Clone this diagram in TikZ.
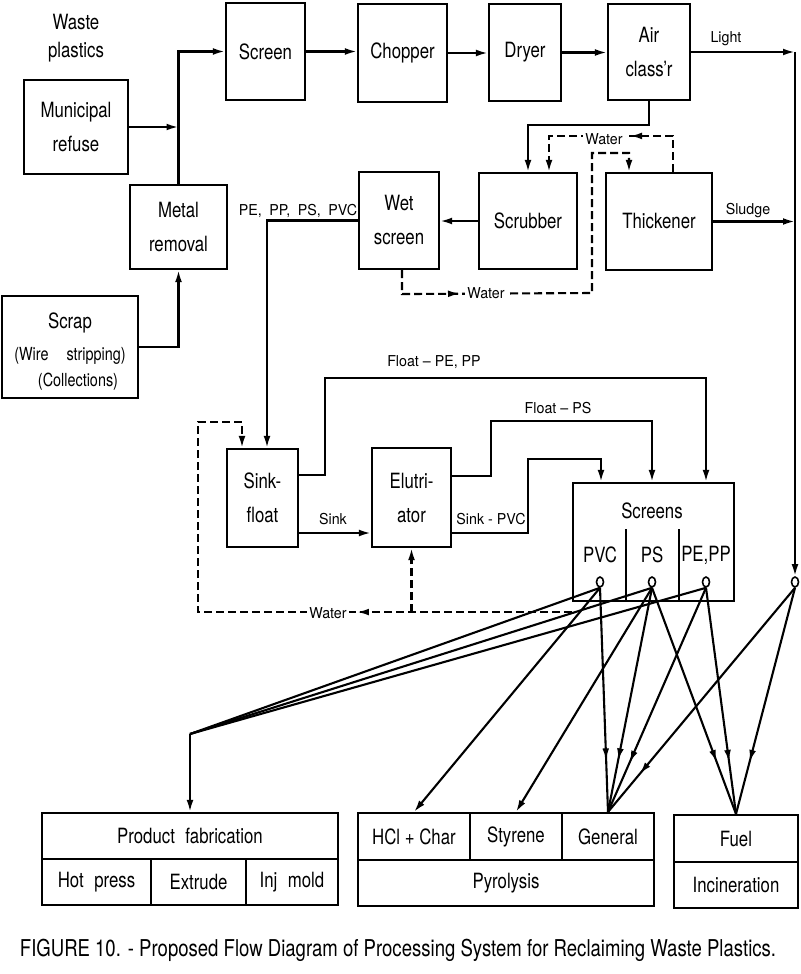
\documentclass[tikz,border=0pt]{standalone}
\usepackage{fontspec}
\setmainfont{TeX Gyre Heros}[FakeStretch=0.8]
\newfontfamily\lblfont{TeX Gyre Heros}[FakeStretch=0.95]
\usetikzlibrary{arrows.meta,shapes.geometric,decorations.markings,calc}
\begin{document}
\begin{tikzpicture}[x=0.5pt,y=-0.5pt,
 every node/.style={font=\fontsize{10.5}{17}\selectfont, align=center},
 box/.style={draw, line width=1.05pt, inner sep=0pt},
 ln/.style={line width=1.05pt},
 arr/.style={ln, -{Latex[length=6pt,width=3.4pt]}},
 dsh/.style={dash pattern=on 4pt off 2pt},
 lbl/.style={font=\lblfont\fontsize{7.5}{9}\selectfont, inner sep=1pt},
 circ/.style={draw, ellipse, minimum width=3.5pt, minimum height=5pt, inner sep=0pt, fill=white, line width=0.8pt},
 midarr/.style={postaction={decorate}, decoration={markings, mark=at position #1 with {\arrow{Latex[length=6pt,width=3.4pt]}}}}]
\fill[white] (0,0) rectangle (800,974);
\useasboundingbox (0,0) rectangle (800,974);

% ---- nodes
\node[font=\fontsize{10.5}{14}\selectfont] (waste) at (76,38) {Waste\\plastics};
\node[box,minimum width=39.5pt,minimum height=48.5pt] (screen) at (265.5,51.5) {Screen};
\node[box,minimum width=44.5pt,minimum height=49pt] (chopper) at (402.5,53) {Chopper};
\node[box,minimum width=36pt,minimum height=48.5pt] (dryer) at (525,52.5) {Dryer};
\node[box,minimum width=41pt,minimum height=48pt] (aircl) at (649,52) {Air\\class\textquoteright r};
\node[box,minimum width=52pt,minimum height=47pt] (muni) at (76,127) {Municipal\\refuse};
\node[box,minimum width=48.5pt,minimum height=42pt] (metal) at (178.5,227) {Metal\\removal};
\node[box,minimum width=68pt,minimum height=51pt] (scrap) at (70,347) {};
\node (scrapt) at (70,323) {Scrap};
\node[font=\fontsize{9}{11}\selectfont] (wiret) at (70,356) {(Wire\quad stripping)};
\node[font=\fontsize{9}{11}\selectfont] (collt) at (78,382) {(Collections)};
\node[box,minimum width=40pt,minimum height=48.5pt] (wet) at (399,220.5) {Wet\\screen};
\node[box,minimum width=49pt,minimum height=48pt] (scrub) at (528,221) {Scrubber};
\node[box,minimum width=53pt,minimum height=48.5pt] (thick) at (659,221.5) {Thickener};
\node[box,minimum width=35.5pt,minimum height=49pt] (sink) at (262.5,498) {Sink-\\float};
\node[box,minimum width=39.5pt,minimum height=49.5pt] (elu) at (411.5,497.5) {Elutri-\\ator};
\node[box,minimum width=80.5pt,minimum height=59pt] (scr) at (653.5,542) {};
\node (scrt) at (652,511) {Screens};
\draw[ln] (626,529) -- (626,601);
\draw[ln] (679,529) -- (679,601);
\node (tpvc) at (600,555) {PVC};
\node (tps) at (652,555) {PS};
\node (tpe) at (706,555) {PE,PP};
\node[circ] (cpvc) at (600,582) {};
\node[circ] (cps) at (652,582) {};
\node[circ] (cpe) at (706,582) {};
\node[circ] (crt) at (795,582) {};

% bottom boxes
\node[box,minimum width=148pt,minimum height=23pt] (pf) at (190,836) {Product\enspace fabrication};
\node[box,minimum width=54.5pt,minimum height=23pt] (hot) at (96.5,882) {Hot\enspace press};
\node[box,minimum width=47.5pt,minimum height=23pt] (ext) at (198.5,882) {Extrude};
\node[box,minimum width=46pt,minimum height=23pt] (inj) at (292,882) {Inj\enspace mold};
\node[box,minimum width=56pt,minimum height=23.5pt] (hcl) at (414,836.5) {HCl + Char};
\node[box,minimum width=46pt,minimum height=23.5pt] (sty) at (516,836.5) {Styrene};
\node[box,minimum width=46pt,minimum height=23.5pt] (gen) at (608,836.5) {General};
\node[box,minimum width=148pt,minimum height=23pt] (pyro) at (506,883) {Pyrolysis};
\node[box,minimum width=62pt,minimum height=23.5pt] (fuel) at (736,838.5) {Fuel};
\node[box,minimum width=62pt,minimum height=23pt] (incin) at (736,885) {Incineration};

\node[font=\fontsize{11.6}{13}\selectfont] (cap) at (398,950) {FIGURE 10. - Proposed Flow Diagram of Processing System for Reclaiming Waste Plastics.};

% ---- connectors, top
\draw[arr] (muni.east) -- (muni.east -| metal.north);
\draw[arr] (metal.north) |- (screen.west);
\draw[arr] (scrap.east) -| (metal.south);
\draw[arr] (screen.east) -- (screen.east -| chopper.west);
\draw[arr] (chopper.east) -- (chopper.east -| dryer.west);
\draw[arr] (dryer.east) -- (dryer.east -| aircl.west);
\draw[arr] (aircl.east) -- (aircl.east -| crt.north);
\draw[arr] (aircl.east -| crt.north) -- (crt.north);
\draw[arr] (thick.east) -- (thick.east -| crt.north);
\node[lbl] (lightt) at (726,39) {Light};
\node[lbl] (sludget) at (748,211) {Sludge};
\draw[arr] (aircl.south) -- ++(0,24) -| (scrub.north);
\draw[arr] (scrub.west) -- (scrub.west -| wet.east);

% water loops, upper
\coordinate (w1) at (592,293);
\coordinate (w2) at (592,153);
\draw[arr,dsh,midarr=39.5pt] ([xshift=7pt]thick.north) -- ++(0,-36) -| ([xshift=10.5pt]scrub.north);
\draw[arr,dsh,midarr=41pt] ([xshift=1.5pt]wet.south) -- ++(0,24) -- (w1) -- (w2) -| ([xshift=-15pt]thick.north);
\node[lbl,fill=white] (water1) at (604,139) {Water};
\node[lbl,fill=white] (water2) at (486,293) {Water};

% wet screen to sink-float
\draw[arr] (wet.west) -| ([xshift=2.25pt]sink.north);
\node[lbl] (mixt) at (298,211) {PE,\enspace PP,\enspace PS,\enspace PVC};

% water loop, lower
\coordinate (wst) at ([yshift=-5pt]scr.south west);
\coordinate (wl) at (198,422);
\draw[arr,dsh,midarr=107.5pt] (wst) -| (wl) -| ([xshift=-10.25pt]sink.north);
\draw[arr,dsh] (wst -| elu.south) -- (elu.south);
\node[lbl,fill=white] (water3) at (328,613) {Water};

% sink-float / elutriator to screens
\coordinate (sk) at ([yshift=-17.5pt]sink.east);
\draw[arr] (sk) -- (sk -| elu.west);
\node[lbl] (sinkt) at (333,519) {Sink};
\draw[arr] ([yshift=11.5pt]sink.east) -- ++(26,0) -- ++(0,-97) -| ([xshift=26.25pt]scr.north);
\node[lbl] (fpet) at (434,362) {Float \textendash\ PE, PP};
\draw[arr] ([yshift=10.75pt]elu.east) -- ++(39,0) -- ++(0,-55) -| ([xshift=-0.75pt]scr.north);
\node[lbl] (fpst) at (558,408) {Float \textendash\ PS};
\draw[arr] ([yshift=-17.75pt]elu.east) -- ++(76,0) -- ++(0,-74) -| ([xshift=-26.25pt]scr.north);
\node[lbl] (spvct) at (491,519) {Sink - PVC};

% ---- fan to products
\coordinate (fp) at (190,734);
\draw[ln] (cpvc.south) -- (fp);
\draw[ln] (cps.south) -- (fp);
\draw[ln] (cpe.south) -- (fp);
\draw[arr] (fp) -- (pf.north);
\draw[arr] (cpvc.south) -- (hcl.north);
\draw[arr] (cps.south) -- (sty.north);
\draw[ln,midarr=0.77] (cpvc.south) -- (gen.north);
\draw[ln,midarr=0.77] (cps.south) -- (gen.north);
\draw[ln,midarr=0.78] (cpe.south) -- (gen.north);
\draw[ln,midarr=0.83] (crt.south) -- (gen.north);
\draw[ln,midarr=0.77] (cps.south) -- (fuel.north);
\draw[ln,midarr=0.77] (cpe.south) -- (fuel.north);
\draw[ln,midarr=0.77] (crt.south) -- (fuel.north);
\end{tikzpicture}
\end{document}
